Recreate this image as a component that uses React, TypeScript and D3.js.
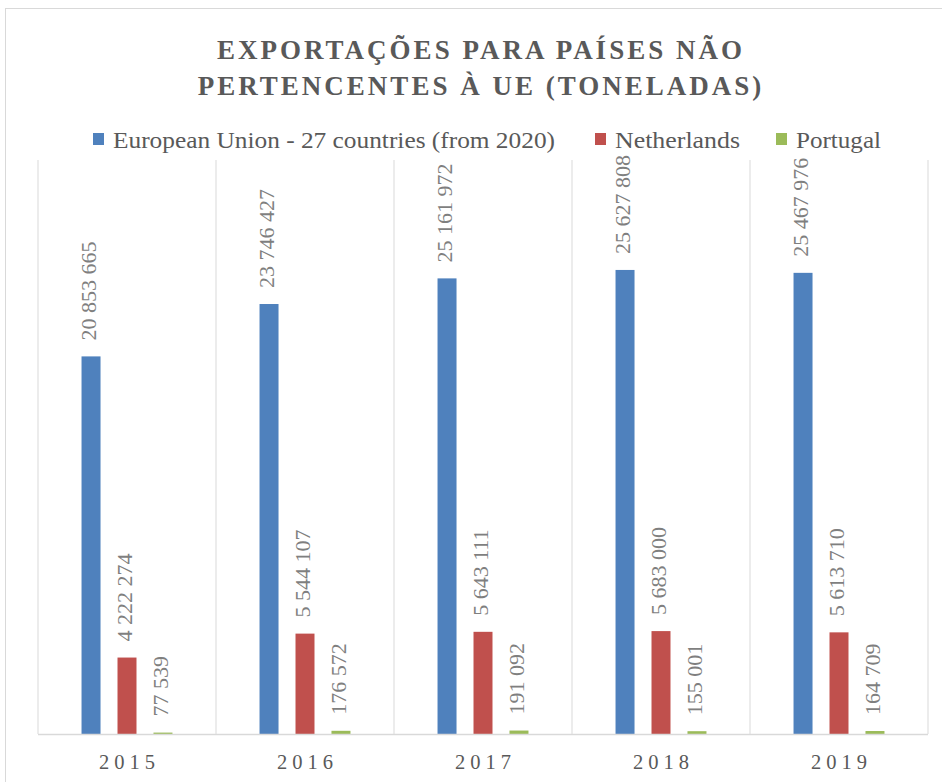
import * as d3 from "d3";

const years = ["2015", "2016", "2017", "2018", "2019"];
const seriesNames = ["European Union - 27 countries (from 2020)", "Netherlands", "Portugal"];
const euValues = [20853665, 23746427, 25161972, 25627808, 25467976];
const nlValues = [4222274, 5544107, 5643111, 5683000, 5613710];
const ptValues = [77539, 176572, 191092, 155001, 164709];
const colors = ["#4f81bd", "#c0504d", "#9bbb59"];
const titleLines = ["EXPORTAÇÕES PARA PAÍSES NÃO", "PERTENCENTES À UE (TONELADAS)"];

const W = 942;
const H = 782;
const serif = "'Liberation Serif', 'DejaVu Serif', serif";

const fmt = (v: number) => d3.format(",")(v).replace(/,/g, " ");

export default function App() {
  const plot = { left: 38, right: 928, top: 160, bottom: 734 };
  const valueSets = [euValues, nlValues, ptValues];

  const x0 = d3.scaleBand<string>().domain(years).range([plot.left, plot.right]);
  const x1 = d3
    .scaleBand<string>()
    .domain(seriesNames)
    .range([0, x0.bandwidth()])
    .paddingInner(0.472)
    .paddingOuter(1.21);
  const y = d3.scaleLinear().domain([0, 31700000]).range([plot.bottom, plot.top]);

  // legend swatch position and text width
  const legendItems = [
    { x: 93, w: 442, label: seriesNames[0] },
    { x: 595, w: 125, label: seriesNames[1] },
    { x: 776, w: 85, label: seriesNames[2] },
  ];

  return (
    <svg
      width={W}
      height={H}
      style={{ position: "absolute", left: 0, top: 0, background: "#fff" }}
    >
      <rect x={5.5} y={8.5} width={W} height={H} fill="#fff" stroke="#d9d9d9" />

      {titleLines.map((t, i) => (
        <text
          key={t}
          x={481}
          y={59 + i * 36}
          textAnchor="middle"
          fontFamily={serif}
          fontWeight="bold"
          fontSize={27}
          letterSpacing={3}
          fill="#595959"
        >
          {t}
        </text>
      ))}

      {legendItems.map((d, i) => (
        <g key={d.label}>
          <rect x={d.x} y={133} width={11} height={12} fill={colors[i]} />
          <text
            x={d.x + 20}
            y={148}
            fontFamily={serif}
            fontSize={24}
            textLength={d.w}
            lengthAdjust="spacingAndGlyphs"
            fill="#595959"
          >
            {d.label}
          </text>
        </g>
      ))}

      {d3.range(years.length + 1).map((i) => {
        const gx = i < years.length ? x0(years[i])! : plot.right;
        return (
          <line
            key={i}
            x1={gx}
            x2={gx}
            y1={plot.top}
            y2={plot.bottom}
            stroke="#d9d9d9"
            strokeWidth={1}
          />
        );
      })}

      {years.map((yr, yi) => (
        <g key={yr} transform={`translate(${x0(yr)},0)`}>
          {seriesNames.map((s, si) => {
            const v = valueSets[si][yi];
            const bx = x1(s)!;
            const cx = bx + x1.bandwidth() / 2;
            const top = y(v);
            return (
              <g key={s}>
                <rect
                  x={bx}
                  y={top}
                  width={x1.bandwidth()}
                  height={plot.bottom - top}
                  fill={colors[si]}
                />
                <text
                  transform={`translate(${cx},${top - 16}) rotate(-90)`}
                  dominantBaseline="middle"
                  fontFamily={serif}
                  fontSize={22}
                  fill="#7f7f7f"
                >
                  {fmt(v)}
                </text>
              </g>
            );
          })}
          <text
            x={x0.bandwidth() / 2 + 2.5}
            y={769}
            textAnchor="middle"
            fontFamily={serif}
            fontSize={20.5}
            letterSpacing={5}
            fill="#595959"
          >
            {yr}
          </text>
        </g>
      ))}

      <line
        x1={plot.left}
        x2={plot.right}
        y1={plot.bottom + 0.5}
        y2={plot.bottom + 0.5}
        stroke="#d9d9d9"
        strokeWidth={1.5}
      />
    </svg>
  );
}
